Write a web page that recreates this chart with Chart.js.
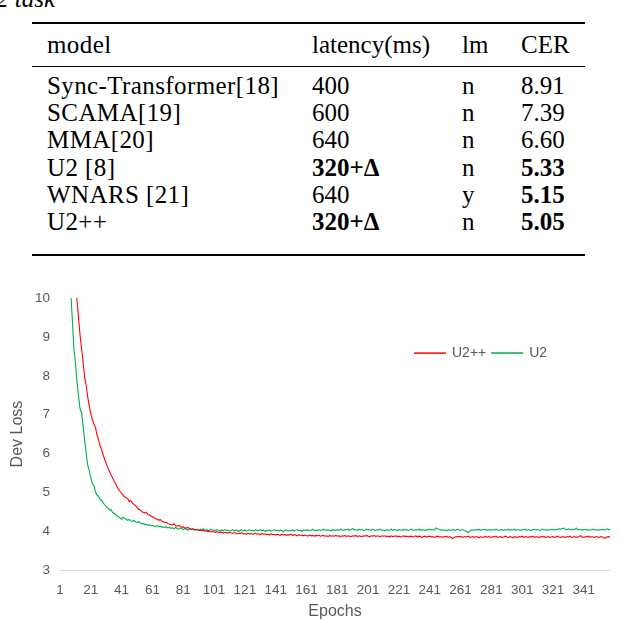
<!DOCTYPE html>
<html>
<head>
<meta charset="utf-8">
<script src="https://cdn.jsdelivr.net/npm/chart.js@4.4.1/dist/chart.umd.min.js"></script>
<style>
  html, body { margin: 0; padding: 0; background: #fff; }
  body { width: 622px; height: 620px; position: relative; overflow: hidden; }
  .tbl { position: absolute; left: 0; top: 0; width: 622px; height: 260px;
         font-family: "Liberation Serif", "Times New Roman", serif; font-size: 25px; color: #000; }
  .cap { position: absolute; left: -4px; top: -15px; font-style: italic; }
  .rule { position: absolute; left: 32px; width: 553px; background: #000; }
  .cell { position: absolute; line-height: 24px; white-space: nowrap; }
  .c0 { letter-spacing: 0.4px; }
  .b { font-weight: bold; }
  #wrap { position: absolute; left: 0; top: 280px; width: 622px; height: 343px; }
</style>
</head>
<body>
<div class="tbl" id="tbl">
  <div class="cap">2 task</div>
  <div class="rule" style="top:22px;height:2px"></div>
  <div class="rule" style="top:66px;height:1px"></div>
  <div class="rule" style="top:254px;height:2px"></div>
</div>
<div id="wrap"><canvas id="chart" width="622" height="343"></canvas></div>
<script>
// table content
const tableHeader = ['model', 'latency(ms)', 'lm', 'CER'];
const models = ['Sync-Transformer[18]', 'SCAMA[19]', 'MMA[20]', 'U2 [8]', 'WNARS [21]', 'U2++'];
const latency = ['400', '600', '640', '320+\u0394', '640', '320+\u0394'];
const lm = ['n', 'n', 'n', 'n', 'y', 'n'];
const cer = ['8.91', '7.39', '6.60', '5.33', '5.15', '5.05'];
const boldLatency = [false, false, false, true, false, true];
const boldCer = [false, false, false, true, true, true];

// chart data: dev loss per epoch
const nEpochs = 358;
const epochs = Array.from({ length: nEpochs }, (_, i) => String(i + 1));

const lossU2 = [
  17.6, 15.9, 14.4, 13.2, 12.2, 11.4, 10.7, 10.15, 9.45, 8.7,
  8.35, 7.85, 7.5, 7.15, 7.05, 6.7, 6.35, 6.0, 5.7, 5.55,
  5.38, 5.22, 5.18, 5.02, 4.93, 4.9, 4.82, 4.79, 4.73, 4.68,
  4.63, 4.6, 4.55, 4.56, 4.49, 4.46, 4.43, 4.39, 4.37, 4.34,
  4.31, 4.36, 4.33, 4.30, 4.28, 4.3, 4.26, 4.25, 4.28, 4.24,
  4.22, 4.25, 4.21, 4.19, 4.2, 4.17, 4.18, 4.15, 4.17, 4.14,
  4.15, 4.13, 4.12, 4.14, 4.11, 4.13, 4.1, 4.11, 4.09, 4.12,
  4.08, 4.1, 4.07, 4.09, 4.06, 4.1, 4.07, 4.05, 4.08, 4.06,
  4.04, 4.07, 4.05, 4.03, 4.06, 4.04, 4.07, 4.03, 4.05, 4.04,
  4.02, 4.05, 4.03, 4.06, 4.02, 4.04, 4.01, 4.03, 4.05, 4.02,
  4.03, 4.01, 4.04, 4.02, 4.0, 4.03, 4.01, 4.04, 4.02, 4.03,
  4.0, 4.02, 4.04, 4.01, 4.03, 4.02, 3.99, 4.02, 4.03, 4.01,
  4.03, 4.0, 4.02, 4.04, 4.01, 4.02, 4.0, 4.03, 4.01, 4.02,
  4.04, 4.01, 4.03, 3.99, 4.02, 4.01, 4.03, 4.0, 4.02, 4.04,
  4.01, 4.02, 4.0, 4.03, 4.01, 3.99, 4.02, 4.03, 4.0, 4.02,
  4.01, 4.03, 4.0, 4.02, 4.04, 4.01, 4.02, 3.99, 4.03, 4.02,
  4.04, 4.01, 4.03, 4.02, 4.05, 4.02, 4.03, 4.01, 4.04, 4.02,
  4.03, 4.05, 4.02, 4.04, 4.02, 4.03, 4.01, 4.04, 4.03, 4.02,
  4.04, 4.02, 4.05, 4.03, 4.02, 4.04, 4.03, 4.05, 4.02, 4.04,
  4.07, 4.03, 4.04, 4.02, 4.05, 4.03, 4.04, 4.02, 4.03, 4.05,
  4.03, 4.04, 4.02, 4.05, 4.03, 4.02, 4.04, 4.03, 4.05, 4.02,
  4.03, 4.01, 4.04, 4.02, 4.03, 4.05, 4.02, 4.04, 4.03, 4.02,
  4.04, 4.03, 4.02, 4.05, 4.03, 4.04, 4.02, 4.03, 4.05, 4.03,
  4.02, 4.04, 4.03, 4.05, 4.02, 4.04, 4.03, 4.02, 4.04, 4.03,
  4.05, 4.03, 4.04, 4.02, 4.08, 4.06, 4.05, 4.03, 4.04, 4.02,
  4.03, 4.01, 4.04, 4.02, 4.03, 4.04, 4.02, 4.03, 4.05, 4.03,
  4.02, 4.04, 4.03, 4.01, 3.99, 3.96, 4.0, 4.03, 4.04, 4.02,
  4.04, 4.03, 4.05, 4.02, 4.04, 4.03, 4.05, 4.02, 4.03, 4.04,
  4.02, 4.04, 4.03, 4.05, 4.03, 4.02, 4.04, 4.03, 4.02, 4.04,
  4.03, 4.05, 4.02, 4.04, 4.03, 4.05, 4.02, 4.04, 4.03, 4.02,
  4.04, 4.03, 4.05, 4.02, 4.04, 4.03, 4.02, 4.04, 4.05, 4.03,
  4.04, 4.02, 4.03, 4.05, 4.03, 4.04, 4.02, 4.04, 4.03, 4.05,
  4.04, 4.03, 4.05, 4.04, 4.06, 4.05, 4.07, 4.08, 4.05, 4.04,
  4.06, 4.04, 4.03, 4.05, 4.04, 4.08, 4.04, 4.05, 4.03, 4.04,
  4.03, 4.05, 4.04, 4.02, 4.04, 4.03, 4.05, 4.03, 4.04, 4.02,
  4.04, 4.03, 4.05, 4.04, 4.03, 4.06, 4.04, 4.05
];

const lossU2pp = [
  20.2, 18.4, 16.9, 15.6, 14.5, 13.5, 12.7, 12.0, 11.4, 10.85,
  10.4, 9.95, 9.5, 9.05, 8.7, 8.35, 7.95, 7.75, 7.45, 7.22,
  7.02, 6.88, 6.76, 6.68, 6.48, 6.35, 6.2, 6.1, 5.96, 5.85,
  5.74, 5.63, 5.55, 5.45, 5.38, 5.3, 5.23, 5.15, 5.08, 5.02,
  4.97, 4.93, 4.88, 4.86, 4.83, 4.76, 4.79, 4.72, 4.69, 4.66,
  4.61, 4.56, 4.55, 4.51, 4.48, 4.47, 4.49, 4.43, 4.42, 4.39,
  4.37, 4.35, 4.32, 4.31, 4.28, 4.3, 4.26, 4.24, 4.22, 4.23,
  4.2, 4.18, 4.17, 4.16, 4.19, 4.14, 4.13, 4.15, 4.12, 4.1,
  4.11, 4.09, 4.08, 4.1, 4.07, 4.05, 4.06, 4.04, 4.03, 4.04,
  4.02, 4.03, 4.01, 4.02, 4.0, 4.01, 3.99, 4.0, 3.98, 3.99,
  3.98, 3.97, 3.99, 3.96, 3.98, 3.97, 3.95, 3.97, 3.96, 3.95,
  3.97, 3.95, 3.94, 3.96, 3.95, 3.93, 3.95, 3.94, 3.96, 3.93,
  3.94, 3.92, 3.95, 3.93, 3.94, 3.92, 3.93, 3.95, 3.92, 3.93,
  3.91, 3.94, 3.92, 3.93, 3.91, 3.92, 3.9, 3.93, 3.91, 3.92,
  3.9, 3.92, 3.91, 3.89, 3.92, 3.9, 3.91, 3.89, 3.91, 3.9,
  3.92, 3.89, 3.91, 3.9, 3.88, 3.91, 3.89, 3.9, 3.88, 3.9,
  3.89, 3.87, 3.9, 3.88, 3.89, 3.87, 3.89, 3.88, 3.9, 3.87,
  3.88, 3.89, 3.87, 3.88, 3.86, 3.89, 3.87, 3.88, 3.87, 3.89,
  3.87, 3.88, 3.86, 3.88, 3.87, 3.89, 3.86, 3.88, 3.87, 3.86,
  3.88, 3.87, 3.89, 3.86, 3.88, 3.87, 3.86, 3.88, 3.87, 3.89,
  3.87, 3.86, 3.88, 3.87, 3.89, 3.86, 3.88, 3.87, 3.86, 3.88,
  3.87, 3.88, 3.86, 3.87, 3.85, 3.88, 3.86, 3.87, 3.88, 3.86,
  3.87, 3.85, 3.86, 3.88, 3.86, 3.87, 3.85, 3.86, 3.87, 3.85,
  3.86, 3.88, 3.85, 3.87, 3.86, 3.84, 3.86, 3.87, 3.85, 3.86,
  3.87, 3.85, 3.86, 3.84, 3.86, 3.87, 3.85, 3.86, 3.84, 3.86,
  3.85, 3.87, 3.84, 3.86, 3.83, 3.81, 3.84, 3.86, 3.85, 3.87,
  3.85, 3.86, 3.84, 3.86, 3.85, 3.87, 3.84, 3.85, 3.86, 3.84,
  3.86, 3.85, 3.83, 3.86, 3.84, 3.85, 3.87, 3.84, 3.86, 3.85,
  3.84, 3.86, 3.85, 3.87, 3.84, 3.85, 3.86, 3.84, 3.85, 3.87,
  3.85, 3.84, 3.86, 3.85, 3.83, 3.86, 3.85, 3.84, 3.86, 3.85,
  3.87, 3.84, 3.86, 3.85, 3.84, 3.86, 3.85, 3.87, 3.84, 3.86,
  3.85, 3.84, 3.86, 3.85, 3.87, 3.84, 3.85, 3.86, 3.84, 3.85,
  3.86, 3.84, 3.85, 3.87, 3.85, 3.84, 3.86, 3.85, 3.84, 3.86,
  3.85, 3.87, 3.84, 3.85, 3.86, 3.84, 3.85, 3.87, 3.88, 3.85,
  3.84, 3.86, 3.85, 3.87, 3.84, 3.86, 3.85, 3.84, 3.86, 3.85,
  3.84, 3.86, 3.85, 3.83, 3.82, 3.85, 3.86, 3.85
];

// build the table cells
const tbl = document.getElementById('tbl');
const colX = [47, 312, 462, 521];
function addCell(text, col, cy, bold) {
  const d = document.createElement('div');
  d.className = 'cell c' + col + (bold ? ' b' : '');
  d.textContent = text;
  d.style.left = colX[col] + 'px';
  d.style.top = (cy - 12) + 'px';
  tbl.appendChild(d);
}
tableHeader.forEach((h, i) => addCell(h, i, 45));
models.forEach((m, r) => {
  const cy = 86 + r * 27.2;
  addCell(m, 0, cy, false);
  addCell(latency[r], 1, cy, boldLatency[r]);
  addCell(lm[r], 2, cy, false);
  addCell(cer[r], 3, cy, boldCer[r]);
});

const gray = '#595959';
const sans = '"Liberation Sans", Arial, sans-serif';

// legend drawn inside the plot, top right
const insideLegend = {
  id: 'insideLegend',
  afterDraw(chart) {
    const ctx = chart.ctx;
    const a = chart.chartArea;
    let x = a.left + 354;
    const y = a.top + 55;
    ctx.save();
    ctx.font = '14px ' + sans;
    ctx.textBaseline = 'middle';
    chart.data.datasets.forEach(ds => {
      ctx.strokeStyle = ds.borderColor;
      ctx.lineWidth = 1.5;
      ctx.beginPath();
      ctx.moveTo(x, y);
      ctx.lineTo(x + 32, y);
      ctx.stroke();
      ctx.fillStyle = gray;
      ctx.fillText(ds.label, x + 38, y);
      x += 38 + ctx.measureText(ds.label).width + 5;
    });
    ctx.restore();
  }
};

new Chart(document.getElementById('chart'), {
  type: 'line',
  data: {
    labels: epochs,
    datasets: [
      { label: 'U2++', data: lossU2pp, borderColor: '#ff0000', borderWidth: 1.1, pointRadius: 0, fill: false },
      { label: 'U2', data: lossU2, borderColor: '#00b050', borderWidth: 1.1, pointRadius: 0, fill: false }
    ]
  },
  options: {
    responsive: false,
    animation: false,
    events: [],
    layout: { padding: { top: 17, right: 2, left: 0, bottom: 0 } },
    plugins: { legend: { display: false }, tooltip: { enabled: false } },
    scales: {
      x: {
        grid: { display: false, drawTicks: false },
        border: { display: true, color: '#d9d9d9', width: 1 },
        ticks: {
          autoSkip: false, maxRotation: 0, minRotation: 0, padding: 12,
          color: gray, font: { family: sans, size: 13.5 },
          callback: (v, i) => (i % 20 === 0 ? epochs[i] : '')
        },
        title: { display: true, text: 'Epochs', color: gray, font: { family: sans, size: 16 }, padding: { top: 0, bottom: 2 } },
        afterFit: s => { s.height = 53; }
      },
      y: {
        min: 3, max: 10,
        grid: { display: false, drawTicks: false },
        border: { display: false },
        ticks: { stepSize: 1, padding: 10, color: gray, font: { family: sans, size: 13.5 } },
        title: { display: true, text: 'Dev Loss', color: gray, font: { family: sans, size: 16 }, padding: { top: 8, bottom: 0 } },
        afterFit: s => { s.width = 60; }
      }
    }
  },
  plugins: [insideLegend]
});
</script>
</body>
</html>
